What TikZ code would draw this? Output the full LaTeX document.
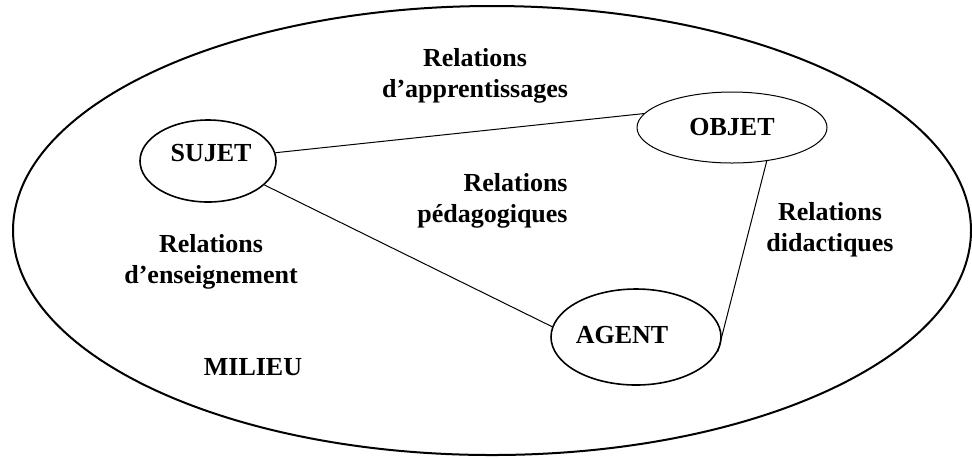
\documentclass[tikz,border=0pt]{standalone}
\usepackage{fontspec}
\setmainfont{Liberation Serif}
\usetikzlibrary{shapes.geometric}

\begin{document}
\begin{tikzpicture}[x=0.5pt, y=-0.5pt,
    entite/.style={draw, ellipse, line width=0.8pt, inner sep=0pt},
    nom/.style={font=\bfseries\fontsize{13}{15.5}\selectfont, inner sep=0pt},
    rel/.style={font=\bfseries\fontsize{13}{15.5}\selectfont, inner sep=0pt, align=center},
    lien/.style={line width=0.5pt}]

    \useasboundingbox (0,0) rectangle (972,457);

    %define the milieu
    \draw[line width=1pt] (492,230.5) ellipse [x radius=479, y radius=224.5];
    \node[nom, anchor=base] (milieu) at (253,375) {MILIEU};

    %define the three poles
    \node[entite, minimum width=68pt, minimum height=41pt,
          label={[nom, xshift=1.5pt, yshift=3.8pt]center:SUJET}] (sujet) at (208,161) {};
    \node[entite, line width=0.5pt, minimum width=95pt, minimum height=35.5pt,
          label={[nom]center:OBJET}] (objet) at (732,127.5) {};
    \node[entite, minimum width=85pt, minimum height=48pt,
          label={[nom, xshift=-7pt, yshift=0.8pt]center:AGENT}] (agent) at (636,337) {};

    %define the links
    \draw[lien] (sujet.7) -- (objet.171);
    \draw[lien] (sujet.-23) -- (agent.173);
    \draw[lien] (objet.-44) -- (agent.-10);

    %define the relations
    \node[rel] (apprent) at (475,76) {Relations\\d'apprentissages};
    \node[rel, align=right, anchor=east] (pedago) at (568,201) {Relations\\pédagogiques};
    \node[rel] (didact) at (830,230) {Relations\\didactiques};
    \node[rel] (enseign) at (211,262) {Relations\\d'enseignement};
\end{tikzpicture}
\end{document}
